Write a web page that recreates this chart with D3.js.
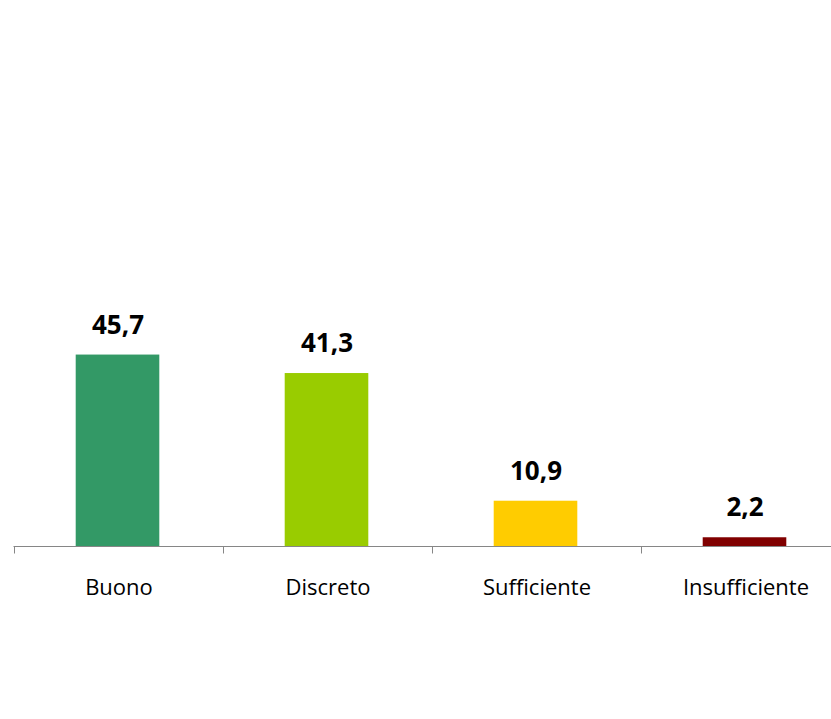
<!DOCTYPE html>
<html><head><meta charset="utf-8">
<script src="https://cdn.jsdelivr.net/npm/d3@7"></script>
<style>html,body{margin:0;padding:0;background:#fff;}</style>
</head><body>
<script>
const categories = ["Buono", "Discreto", "Sufficiente", "Insufficiente"];
const values = [45.7, 41.3, 10.9, 2.2];
const labels = ["45,7", "41,3", "10,9", "2,2"];
const colors = ["#339966", "#99cc00", "#ffcc00", "#800000"];

const W = 831, H = 719;
const baseY = 546.5;
const svg = d3.select("body").append("svg").attr("width", W).attr("height", H);

const x = d3.scaleBand().domain(categories).range([13.5, 849.5]).padding(0);
const y = d3.scaleLinear().domain([0, 100]).range([baseY, baseY - 420]);

const barW = x.bandwidth() * 0.4;

svg.selectAll("rect.bar").data(categories).enter().append("rect")
  .attr("x", (d) => x(d) + x.bandwidth() / 2 - barW / 2 - 0.5)
  .attr("y", (d, i) => y(values[i]))
  .attr("width", barW)
  .attr("height", (d, i) => y(0) - y(values[i]))
  .attr("fill", (d, i) => colors[i]);

// axis
const axisG = svg.append("g").attr("transform", `translate(0,${baseY})`);
axisG.append("line").attr("x1", 13.5).attr("x2", W).attr("y1", 0).attr("y2", 0)
  .attr("stroke", "#868686").attr("stroke-width", 1);
const tickPos = categories.map(d => x(d)).concat([x.range()[1]]);
axisG.selectAll("line.tick").data(tickPos).enter().append("line")
  .attr("x1", d => Math.round(d) + 0.5).attr("x2", d => Math.round(d) + 0.5)
  .attr("y1", 0).attr("y2", 7).attr("stroke", "#868686").attr("stroke-width", 1);

svg.selectAll("text.cat").data(categories).enter().append("text")
  .attr("x", d => x(d) + x.bandwidth() / 2 + 1)
  .attr("y", 595)
  .attr("text-anchor", "middle")
  .attr("font-family", "'Open Sans', sans-serif")
  .attr("font-size", 22)
  .attr("fill", "#000")
  .text(d => d);

svg.selectAll("text.val").data(categories).enter().append("text")
  .attr("x", d => x(d) + x.bandwidth() / 2)
  .attr("y", (d, i) => y(values[i]) - 21)
  .attr("text-anchor", "middle")
  .attr("font-family", "'Open Sans', sans-serif")
  .attr("font-weight", "bold")
  .attr("font-size", 26)
  .attr("fill", "#000")
  .text((d, i) => labels[i]);
</script>
</body></html>
